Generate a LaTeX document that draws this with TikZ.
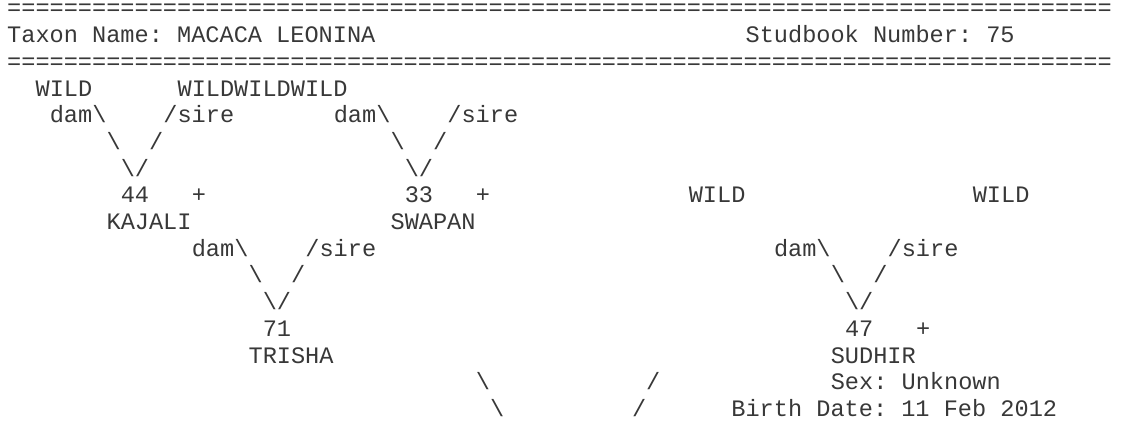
\documentclass[tikz,border=0pt]{standalone}
\usepackage{fontspec}
\setmonofont{Liberation Mono}
\frenchspacing
\begin{document}
\begin{tikzpicture}[x=14.2pt, y=-26.7pt,
    txt/.style={font=\ttfamily\fontsize{23.6pt}{26.7pt}\selectfont, text=black!78, inner sep=0pt, anchor=base west},
    rule/.style={txt, text height=10pt}]
  \useasboundingbox (-7pt,-10.7pt) rectangle (1117pt,-437.7pt);

  % header
  \node [rule] (ruletop) at (0,1) {==============================================================================};
  \node [txt] (taxon) at (0,2) {Taxon Name: MACACA LEONINA};
  \node [txt] (studbook) at (52,2) {Studbook Number: 75};
  \node [rule] (rulebot) at (0,3) {==============================================================================};

  % parents of KAJALI and SWAPAN
  \node [txt] (wilda) at (2,4) {WILD};
  \node [txt] (wildb) at (12,4) {WILDWILDWILD};
  \node [txt] (dama) at (3,5) {dam\textbackslash};
  \node [txt] (sirea) at (11,5) {/sire};
  \node [txt] (damb) at (23,5) {dam\textbackslash};
  \node [txt] (sireb) at (31,5) {/sire};
  \node [txt] (linea) at (7,6) {\textbackslash};
  \node [txt] (lineb) at (10,6) {/};
  \node [txt] (linec) at (27,6) {\textbackslash};
  \node [txt] (lined) at (30,6) {/};
  \node [txt] (joina) at (8,7) {\textbackslash/};
  \node [txt] (joinb) at (28,7) {\textbackslash/};

  % KAJALI + SWAPAN, parents of SUDHIR
  \node [txt] (numkajali) at (8,8) {44};
  \node [txt] (plusa) at (13,8) {+};
  \node [txt] (numswapan) at (28,8) {33};
  \node [txt] (plusb) at (33,8) {+};
  \node [txt] (wildc) at (48,8) {WILD};
  \node [txt] (wildd) at (68,8) {WILD};
  \node [txt] (kajali) at (7,9) {KAJALI};
  \node [txt] (swapan) at (27,9) {SWAPAN};

  \node [txt] (damc) at (13,10) {dam\textbackslash};
  \node [txt] (sirec) at (21,10) {/sire};
  \node [txt] (damd) at (54,10) {dam\textbackslash};
  \node [txt] (sired) at (62,10) {/sire};
  \node [txt] (linee) at (17,11) {\textbackslash};
  \node [txt] (linef) at (20,11) {/};
  \node [txt] (lineg) at (58,11) {\textbackslash};
  \node [txt] (lineh) at (61,11) {/};
  \node [txt] (joinc) at (18,12) {\textbackslash/};
  \node [txt] (joind) at (59,12) {\textbackslash/};

  % TRISHA and SUDHIR
  \node [txt] (numtrisha) at (18,13) {71};
  \node [txt] (numsudhir) at (59,13) {47};
  \node [txt] (plusc) at (64,13) {+};
  \node [txt] (trisha) at (17,14) {TRISHA};
  \node [txt] (sudhir) at (58,14) {SUDHIR};

  \node [txt] (linei) at (33,15) {\textbackslash};
  \node [txt] (linej) at (45,15) {/};
  \node [txt] (sex) at (58,15) {Sex: Unknown};
  \node [txt] (linek) at (34,16) {\textbackslash};
  \node [txt] (linel) at (44,16) {/};
  \node [txt] (birth) at (51,16) {Birth Date: 11 Feb 2012};
\end{tikzpicture}
\end{document}
